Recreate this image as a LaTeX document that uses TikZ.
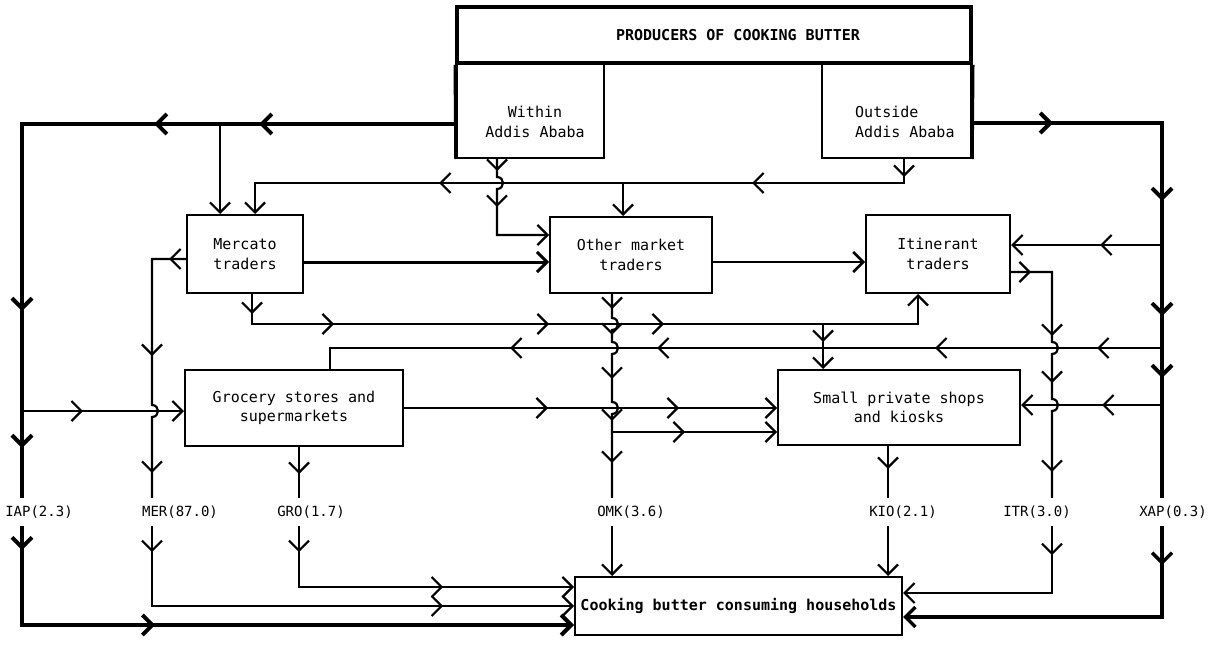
\documentclass[tikz,border=0pt]{standalone}
\usepackage{fontspec}
\newfontfamily\dotfont{DejaVu Sans Mono}
\usetikzlibrary{arrows.meta,decorations.markings}
\tikzset{
  chev/.tip={Straight Barb[length=10pt,width=20pt]},
  ca/.style={postaction={decorate,decoration={markings,mark=at position #1 with {\arrow{chev}}}}},
  ln/.style={line width=2.2pt, line join=miter},
  thk/.style={line width=4pt, line join=miter},
  box/.style={draw, line width=2pt, inner sep=0pt, align=center, font=\dotfont\fontsize{15}{19.5}\selectfont},
  txt/.style={inner sep=0pt, align=center, font=\dotfont\fontsize{15}{19.5}\selectfont},
  lab/.style={inner sep=0pt, minimum height=28pt, font=\dotfont\fontsize{14}{16}\selectfont},
}
\begin{document}
\begin{tikzpicture}[x=1pt,y=-1pt]
\useasboundingbox (0,0) rectangle (1214,647);
\fill[white] (0,0) rectangle (1214,647);

% ---------- boxes ----------
\node[box, line width=3.5pt, minimum width=514pt, minimum height=56pt] (prod) at (714,35) {};
\node[txt, font=\dotfont\bfseries\fontsize{15}{19.5}\selectfont] (prodtxt) at (738,35) {PRODUCERS OF COOKING BUTTER};
\node[box, minimum width=147pt, minimum height=95pt] (within) at (530.5,110.5) {};
\node[txt] (withintxt) at (535,122) {Within\\Addis Ababa};
\node[box, minimum width=149pt, minimum height=95pt] (outside) at (896.5,110.5) {};
\node[txt, anchor=west, align=left] (outsidetxt) at (855,122) {Outside\\Addis Ababa};
\draw[line width=3.5pt] (within.south west) -- (prod.south west);
\draw[line width=3.5pt] (outside.south east) -- (prod.south east);

\node[box, minimum width=116pt, minimum height=78pt] (merc) at (245,254) {Mercato\\traders};
\node[box, minimum width=162pt, minimum height=76pt] (other) at (631,255) {Other market\\traders};
\node[box, minimum width=144pt, minimum height=78pt] (itin) at (938,254) {Itinerant\\traders};
\node[box, minimum width=218pt, minimum height=76pt] (groc) at (294,408) {Grocery stores and\\supermarkets};
\node[box, minimum width=242pt, minimum height=75pt] (small) at (899,407.5) {Small private shops\\and kiosks};
\node[box, minimum width=327pt, minimum height=58pt, font=\dotfont\bfseries\fontsize{15}{19.5}\selectfont] (cons) at (738.5,606) {Cooking butter consuming households};

% ---------- labels ----------
\node[lab] (iap) at (39,512) {IAP(2.3)};
\node[lab] (mer) at (180,512) {MER(87.0)};
\node[lab] (gro) at (311,512) {GRO(1.7)};
\node[lab] (omk) at (631,512) {OMK(3.6)};
\node[lab] (kio) at (903,512) {KIO(2.1)};
\node[lab] (itr) at (1037,512) {ITR(3.0)};
\node[lab] (xap) at (1173,512) {XAP(0.3)};

% ---------- coordinates ----------
\coordinate (L1) at (22,124);
\coordinate (L2) at (22,625);
\coordinate (Lg) at (22,411);
\coordinate (Lm) at (220,124);
\coordinate (M1) at (152,259);
\coordinate (M2) at (152,606);
\coordinate (G2) at (299,587);
\coordinate (Ob) at (904,183);
\coordinate (Yw) at (255,183);
\coordinate (Oj) at (623,183);
\coordinate (W1) at (497,235);
\coordinate (B1) at (252,324);
\coordinate (B2) at (918,324);
\coordinate (Sj) at (823,324);
\coordinate (R1) at (1162,123);
\coordinate (R2) at (1162,617);
\coordinate (Ri) at (1162,245);
\coordinate (Rl) at (1162,348);
\coordinate (Rs) at (1162,405);
\coordinate (C1) at (330,348);
\coordinate (T1) at (1052,272);
\coordinate (T2) at (1052,593);
\coordinate (Oc) at (612,432);
\coordinate (K) at (888,470);
\coordinate (h262) at (0,262);
\coordinate (h408) at (0,408);

% ---------- left side ----------
\draw[thk, ca=197pt, ca=302pt, ca=621pt, ca=758pt] (within.west |- L1) -- (L1) -- (L1 |- iap.north);
\draw[thk, -chev, ca=24pt, ca=232pt] (L1 |- iap.south) -- (L2) -- (cons.west |- L2);
\draw[ln, -chev] (Lm) -- (Lm |- merc.north);
\draw[ln, -chev, ca=61pt] (Lg) -- (groc.west |- Lg);

% ---------- from producers ----------
\draw[ln, -chev, ca=18pt, ca=176pt, ca=489pt] (outside.south -| Ob) -- (Ob) -- (Yw) -- (Yw |- merc.north);
\draw[ln, -chev] (Oj) -- (Oj |- other.north);
\draw[ln, -chev, ca=12pt, ca=55pt] (within.south -| W1) -- (497,177) .. controls (505,177) and (505,189) .. (497,189) -- (W1) -- (other.west |- W1);

% ---------- Mercato ----------
\draw[ln, ca=17pt, ca=131pt, ca=255pt] (merc.west |- M1) -- (M1) -- (152,405) .. controls (160,405) and (160,417) .. (152,417) -- (M1 |- mer.north);
\draw[ln, -chev, ca=26pt, ca=371pt] (M1 |- mer.south) -- (M2) -- (cons.west |- M2);
\draw[ln, line width=3pt, -chev] (merc.east |- h262) -- (other.west |- h262);
\draw[ln, line width=2.6pt, -chev] (other.east |- h262) -- (itin.west |- h262);
\draw[ln, -chev, ca=20pt, ca=112pt, ca=327pt, ca=442pt] (merc.south -| B1) -- (B1) -- (B2) -- (B2 |- itin.south);
\draw[ln, -chev, ca=18pt] (Sj) -- (Sj |- small.north);

% ---------- Grocery ----------
\draw[ln, ca=27pt] (groc.south -| G2) -- (G2 |- gro.north);
\draw[ln, -chev, ca=26pt, ca=205pt] (G2 |- gro.south) -- (G2) -- (cons.west |- G2);
\draw[ln, ca=65pt, ca=227pt, ca=505pt, ca=652pt] (Rl) -- (C1) -- (C1 |- groc.north);
\draw[ln, -chev, ca=144pt, ca=275pt] (groc.east |- h408) -- (small.west |- h408);

% ---------- Other market ----------
\draw[ln, ca=15pt, ca=48pt, ca=99pt, ca=148pt, ca=190pt] (other.south -| Oc) -- (612,318) .. controls (620,318) and (620,330) .. (612,330) -- (612,342) .. controls (620,342) and (620,354) .. (612,354) -- (612,402) .. controls (620,402) and (620,414) .. (612,414) -- (Oc |- omk.north);
\draw[ln, -chev, ca=73pt] (Oc) -- (small.west |- Oc);
\draw[ln, -chev] (Oc |- omk.south) -- (Oc |- cons.north);

% ---------- right side ----------
\draw[thk, ca=81pt, ca=268pt, ca=383pt, ca=445pt] (outside.east |- R1) -- (R1) -- (R1 |- xap.north);
\draw[thk, line width=3.5pt, -chev, ca=39pt] (R1 |- xap.south) -- (R2) -- (cons.east |- R2);
\draw[ln, -chev, ca=62pt] (Ri) -- (itin.east |- Ri);
\draw[ln, -chev, ca=60pt] (Rs) -- (small.east |- Rs);
\draw[ln, ca=20pt, ca=105pt, ca=159pt, ca=255pt] (itin.east |- T1) -- (T1) -- (1052,342) .. controls (1060,342) and (1060,354) .. (1052,354) -- (1052,399) .. controls (1060,399) and (1060,411) .. (1052,411) -- (T1 |- itr.north);
\draw[ln, -chev, ca=29pt] (T1 |- itr.south) -- (T2) -- (cons.east |- T2);
\draw[ln, ca=23pt] (small.south -| K) -- (K |- kio.north);
\draw[ln, -chev] (K |- kio.south) -- (K |- cons.north);
\end{tikzpicture}
\end{document}
